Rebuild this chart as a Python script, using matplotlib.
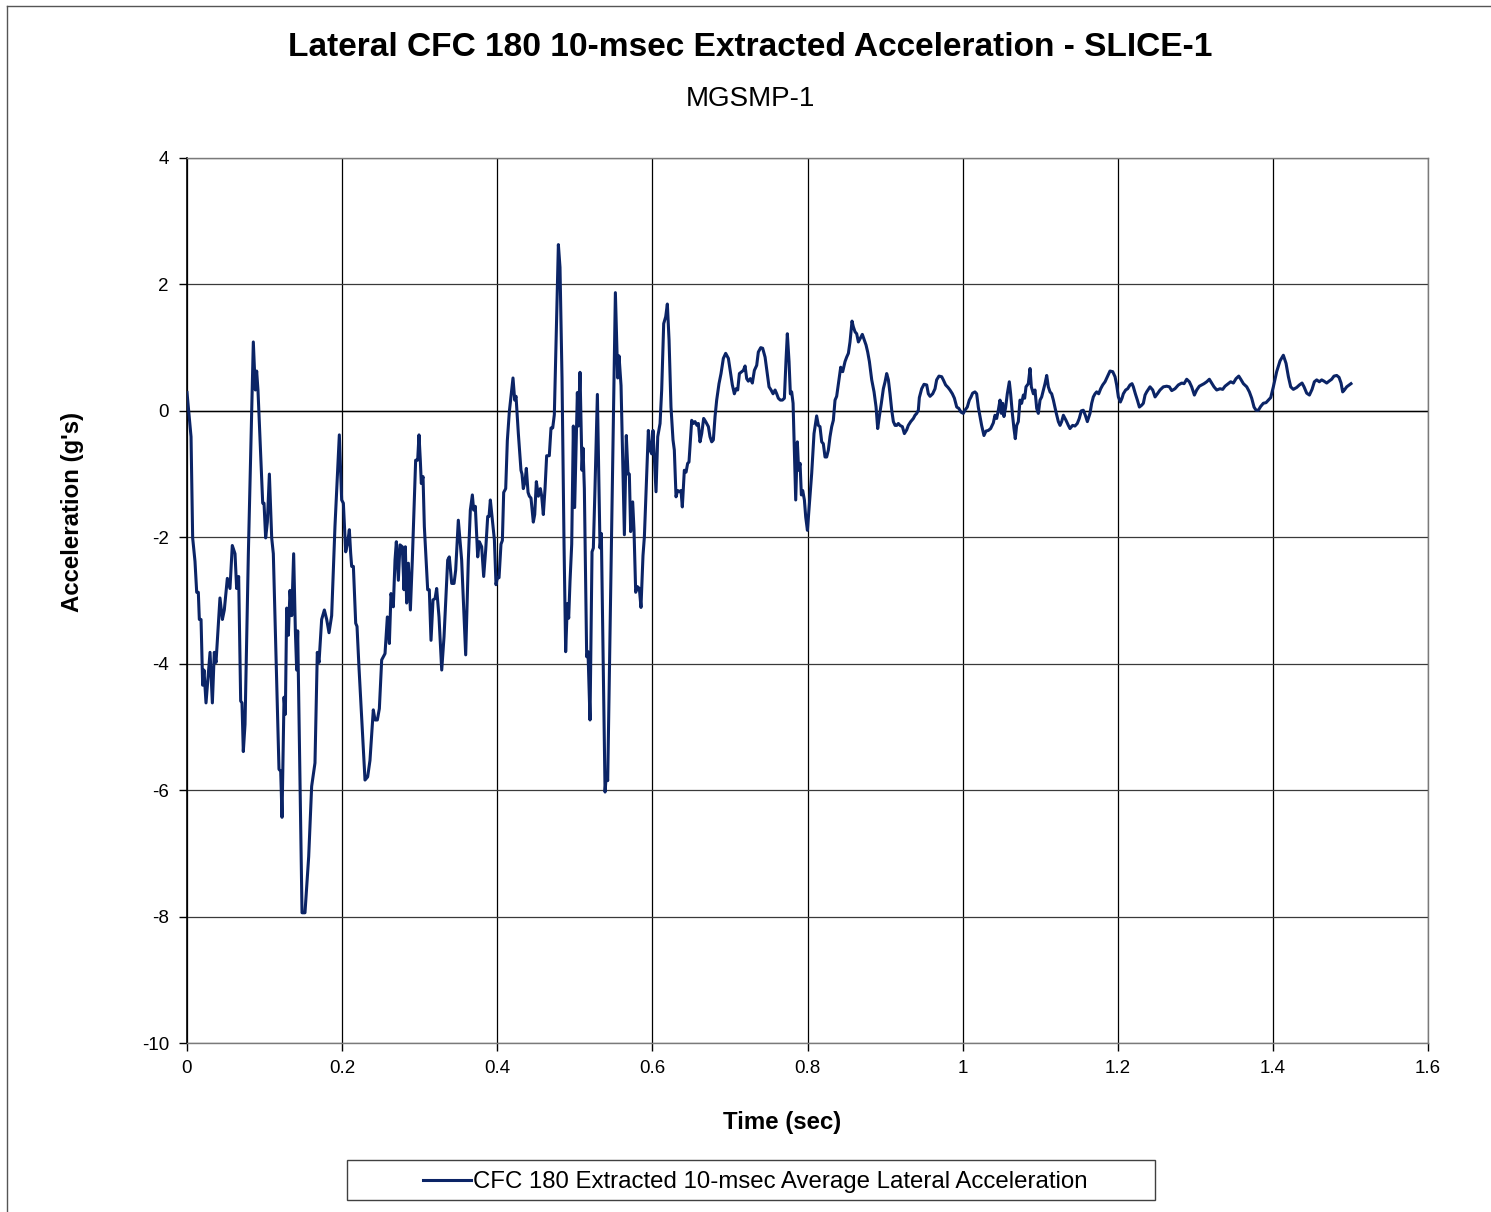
import matplotlib
matplotlib.use('Agg')
import matplotlib.pyplot as plt
from matplotlib.lines import Line2D
from matplotlib.patches import Rectangle
from matplotlib.ticker import FuncFormatter

plt.rcParams['font.family'] = ['Liberation Sans', 'DejaVu Sans']
plt.rcParams['axes.unicode_minus'] = False

# values
time_s = [
    0.0000, 0.0052, 0.0073, 0.0103, 0.0125, 0.0146, 0.0159, 0.0181, 0.0202, 0.0219,
    0.0245, 0.0297, 0.0327, 0.0352, 0.0374, 0.0425, 0.0456, 0.0481, 0.0520, 0.0554,
    0.0584, 0.0619, 0.0640, 0.0666, 0.0692, 0.0709, 0.0726, 0.0748, 0.0791, 0.0855,
    0.0881, 0.0898, 0.0915, 0.0976, 0.0993, 0.1014, 0.1036, 0.1062, 0.1092, 0.1113,
    0.1186, 0.1208, 0.1225, 0.1251, 0.1268, 0.1285, 0.1307, 0.1328, 0.1350, 0.1375,
    0.1397, 0.1414, 0.1427, 0.1483, 0.1521, 0.1569, 0.1607, 0.1650, 0.1680, 0.1702,
    0.1736, 0.1771, 0.1801, 0.1831, 0.1865, 0.1908, 0.1964,
    # 0.2 - 0.4
    0.1994, 0.2016, 0.2046, 0.2071, 0.2093, 0.2110, 0.2123, 0.2145, 0.2175, 0.2192,
    0.2217, 0.2295, 0.2329, 0.2359, 0.2402, 0.2424, 0.2454, 0.2480, 0.2510, 0.2553,
    0.2583, 0.2609, 0.2630, 0.2660, 0.2682, 0.2699, 0.2725, 0.2746, 0.2776, 0.2798,
    0.2815, 0.2832, 0.2854, 0.2880, 0.2905, 0.2931, 0.2948, 0.2974, 0.2991, 0.3008,
    0.3021, 0.3043, 0.3060, 0.3103, 0.3124, 0.3146, 0.3172, 0.3198, 0.3219, 0.3249,
    0.3284, 0.3314, 0.3361, 0.3382, 0.3413, 0.3443, 0.3464, 0.3498, 0.3541, 0.3593,
    0.3627, 0.3653, 0.3679, 0.3696, 0.3717, 0.3748, 0.3769, 0.3799, 0.3825, 0.3851,
    0.3877, 0.3894, 0.3911, 0.3937, 0.3963, 0.3984,
    # 0.4 - 0.6
    0.4001, 0.4023, 0.4048, 0.4066, 0.4083, 0.4109, 0.4130, 0.4156, 0.4177, 0.4203,
    0.4225, 0.4242, 0.4272, 0.4306, 0.4319, 0.4336, 0.4358, 0.4375, 0.4397, 0.4414,
    0.4435, 0.4465, 0.4483, 0.4504, 0.4530, 0.4556, 0.4573, 0.4594, 0.4616, 0.4637,
    0.4671, 0.4693, 0.4715, 0.4736, 0.4758, 0.4788, 0.4809, 0.4835, 0.4861, 0.4882,
    0.4904, 0.4921, 0.4938, 0.4960, 0.4981, 0.4998, 0.5015, 0.5033, 0.5046, 0.5067,
    0.5093, 0.5106, 0.5123, 0.5153, 0.5170, 0.5196, 0.5222, 0.5239, 0.5260, 0.5291,
    0.5312, 0.5325, 0.5342, 0.5390, 0.5407, 0.5424, 0.5523, 0.5553, 0.5570, 0.5596,
    0.5639, 0.5664, 0.5686, 0.5703, 0.5720, 0.5746, 0.5763, 0.5785, 0.5806, 0.5832,
    0.5853, 0.5879, 0.5897,
    # 0.6 - 0.8
    0.5948, 0.5970, 0.5991, 0.6008, 0.6025, 0.6047, 0.6069, 0.6099, 0.6120, 0.6146,
    0.6172, 0.6193, 0.6215, 0.6240, 0.6266, 0.6283, 0.6305, 0.6326, 0.6352, 0.6369,
    0.6386, 0.6412, 0.6434, 0.6455, 0.6472, 0.6507, 0.6528, 0.6550, 0.6575, 0.6593,
    0.6614, 0.6636, 0.6661, 0.6687, 0.6722, 0.6743, 0.6765, 0.6786, 0.6808, 0.6829,
    0.6859, 0.6885, 0.6915, 0.6945, 0.6980, 0.7005, 0.7031, 0.7057, 0.7079, 0.7100,
    0.7122, 0.7152, 0.7173, 0.7195, 0.7216, 0.7237, 0.7263, 0.7289, 0.7315, 0.7345,
    0.7366, 0.7397, 0.7422, 0.7453, 0.7478, 0.7504, 0.7530, 0.7556, 0.7582, 0.7603,
    0.7624, 0.7650, 0.7676, 0.7702, 0.7723, 0.7740, 0.7762, 0.7779, 0.7796, 0.7814,
    0.7848, 0.7869, 0.7886, 0.7904, 0.7921, 0.7938, 0.7960, 0.7977, 0.7999,
    # 0.8 - 1.0
    0.8019, 0.8054, 0.8084, 0.8118, 0.8140, 0.8161, 0.8183, 0.8204, 0.8226, 0.8247,
    0.8269, 0.8290, 0.8312, 0.8333, 0.8355, 0.8376, 0.8398, 0.8428, 0.8454, 0.8484,
    0.8505, 0.8527, 0.8548, 0.8574, 0.8591, 0.8613, 0.8634, 0.8656, 0.8677, 0.8707,
    0.8729, 0.8755, 0.8776, 0.8798, 0.8828, 0.8858, 0.8884, 0.8905, 0.8926, 0.8952,
    0.8978, 0.9000, 0.9021, 0.9043, 0.9064, 0.9086, 0.9107, 0.9129, 0.9150, 0.9171,
    0.9193, 0.9223, 0.9249, 0.9279, 0.9300, 0.9331, 0.9365, 0.9386, 0.9408, 0.9429,
    0.9442, 0.9472, 0.9502, 0.9537, 0.9558, 0.9580, 0.9614, 0.9644, 0.9665, 0.9695,
    0.9730, 0.9751, 0.9781, 0.9812, 0.9837, 0.9868, 0.9894, 0.9924, 0.9950, 0.9979,
    # 1.0 - 1.24
    1.0009, 1.0030, 1.0060, 1.0086, 1.0108, 1.0129, 1.0159, 1.0181, 1.0202, 1.0224,
    1.0245, 1.0275, 1.0301, 1.0331, 1.0361, 1.0396, 1.0417, 1.0439, 1.0460, 1.0482,
    1.0499, 1.0516, 1.0533, 1.0555, 1.0576, 1.0602, 1.0619, 1.0641, 1.0662, 1.0679,
    1.0697, 1.0718, 1.0740, 1.0761, 1.0783, 1.0800, 1.0817, 1.0847, 1.0869, 1.0886,
    1.0912, 1.0933, 1.0955, 1.0976, 1.0998, 1.1019, 1.1041, 1.1062, 1.1084, 1.1105,
    1.1127, 1.1148, 1.1170, 1.1204, 1.1234, 1.1256, 1.1277, 1.1299, 1.1333, 1.1363,
    1.1384, 1.1418, 1.1448, 1.1478, 1.1504, 1.1530, 1.1556, 1.1582, 1.1608, 1.1642,
    1.1664, 1.1685, 1.1707, 1.1728, 1.1754, 1.1780, 1.1806, 1.1836, 1.1866, 1.1900,
    1.1935, 1.1965, 1.1986, 1.2008, 1.2034, 1.2055, 1.2072, 1.2102, 1.2128, 1.2158,
    1.2184, 1.2201, 1.2227, 1.2253, 1.2279, 1.2309, 1.2330, 1.2352, 1.2373, 1.2399,
    # 1.24 - 1.5
    1.2416, 1.2451, 1.2481, 1.2511, 1.2545, 1.2588, 1.2631, 1.2666, 1.2696, 1.2738,
    1.2781, 1.2825, 1.2855, 1.2889, 1.2923, 1.2953, 1.2988, 1.3018, 1.3052, 1.3082,
    1.3112, 1.3147, 1.3181, 1.3211, 1.3241, 1.3276, 1.3319, 1.3353, 1.3383, 1.3426,
    1.3456, 1.3491, 1.3525, 1.3560, 1.3586, 1.3620, 1.3663, 1.3697, 1.3727, 1.3757,
    1.3783, 1.3813, 1.3843, 1.3877, 1.3912, 1.3942, 1.3972, 1.4006, 1.4049, 1.4092,
    1.4135, 1.4170, 1.4200, 1.4230, 1.4264, 1.4307, 1.4342, 1.4376, 1.4402, 1.4436,
    1.4471, 1.4505, 1.4535, 1.4565, 1.4599, 1.4629, 1.4659, 1.4694, 1.4724, 1.4758,
    1.4788, 1.4823, 1.4853, 1.4879, 1.4900, 1.4922, 1.4952, 1.4986, 1.5007,
]

accel_g = [
    0.29, -0.41, -2.01, -2.38, -2.87, -2.87, -3.30, -3.30, -4.34, -4.10,
    -4.62, -3.82, -4.62, -3.82, -3.98, -2.96, -3.30, -3.15, -2.65, -2.81,
    -2.13, -2.26, -2.81, -2.62, -4.59, -4.62, -5.39, -4.96, -2.26, 1.09,
    0.33, 0.63, 0.33, -1.46, -1.46, -2.01, -1.76, -1.00, -2.01, -2.26,
    -5.67, -5.70, -6.43, -4.53, -4.80, -3.12, -3.55, -2.84, -3.24, -2.26,
    -3.48, -4.10, -3.48, -7.94, -7.94, -7.05, -5.94, -5.57, -3.82, -3.98,
    -3.30, -3.15, -3.30, -3.51, -3.24, -1.82, -0.38,
    # 0.2 - 0.4
    -1.41, -1.46, -2.23, -2.09, -1.88, -2.25, -2.46, -2.46, -3.36, -3.41,
    -4.05, -5.84, -5.79, -5.53, -4.73, -4.89, -4.89, -4.71, -3.94, -3.84,
    -3.26, -3.68, -2.89, -3.10, -2.36, -2.07, -2.68, -2.12, -2.15, -2.83,
    -2.15, -3.04, -2.41, -3.15, -2.36, -1.41, -0.78, -0.78, -0.38, -0.78,
    -1.15, -1.04, -1.83, -2.83, -2.83, -3.63, -2.99, -2.97, -2.81, -3.26,
    -4.10, -3.57, -2.36, -2.31, -2.73, -2.73, -2.52, -1.73, -2.36, -3.86,
    -2.36, -1.57, -1.33, -1.57, -1.51, -2.31, -2.07, -2.15, -2.62, -2.20,
    -1.67, -1.67, -1.41, -1.73, -2.04, -2.75,
    # 0.4 - 0.6
    -2.64, -2.64, -2.11, -2.05, -1.29, -1.23, -0.47, -0.01, 0.23, 0.52,
    0.17, 0.23, -0.36, -0.94, -1.00, -1.23, -1.12, -0.91, -1.29, -1.35,
    -1.38, -1.76, -1.64, -1.12, -1.35, -1.23, -1.35, -1.64, -1.23, -0.71,
    -0.71, -0.27, -0.27, -0.06, 1.11, 2.63, 2.27, 0.52, -2.11, -3.81,
    -3.05, -3.28, -2.70, -2.11, -0.24, -1.53, -0.65, 0.29, -0.24, 0.61,
    -0.94, -0.59, -1.23, -3.89, -3.81, -4.89, -2.23, -2.17, -1.23, 0.26,
    -1.23, -2.17, -1.94, -6.03, -5.74, -5.85, 1.87, 0.52, 0.87, 0.40,
    -1.96, -0.39, -1.00, -1.00, -1.91, -1.44, -1.88, -2.87, -2.78, -2.81,
    -3.11, -2.29, -1.99,
    # 0.6 - 0.8
    -0.31, -0.62, -0.68, -0.31, -0.73, -1.28, -0.41, -0.20, 0.33, 1.38,
    1.49, 1.69, 1.12, 0.06, -0.46, -0.62, -1.36, -1.26, -1.28, -1.26,
    -1.52, -0.94, -0.97, -0.83, -0.81, -0.15, -0.20, -0.17, -0.23, -0.20,
    -0.49, -0.36, -0.12, -0.17, -0.25, -0.41, -0.49, -0.46, -0.09, 0.17,
    0.43, 0.59, 0.83, 0.91, 0.83, 0.62, 0.41, 0.27, 0.35, 0.33,
    0.59, 0.62, 0.64, 0.71, 0.51, 0.47, 0.51, 0.44, 0.64, 0.72,
    0.93, 1.00, 0.99, 0.85, 0.62, 0.38, 0.33, 0.27, 0.33, 0.27,
    0.20, 0.17, 0.17, 0.20, 0.80, 1.22, 0.78, 0.27, 0.30, 0.12,
    -1.41, -0.49, -0.94, -0.83, -1.33, -1.26, -1.41, -1.68, -1.89,
    # 0.8 - 1.0
    -1.57, -0.99, -0.36, -0.08, -0.23, -0.25, -0.49, -0.52, -0.73, -0.73,
    -0.62, -0.41, -0.25, -0.15, 0.17, 0.23, 0.43, 0.69, 0.62, 0.78,
    0.85, 0.91, 1.09, 1.42, 1.33, 1.25, 1.22, 1.09, 1.14, 1.21,
    1.13, 1.04, 0.93, 0.78, 0.49, 0.30, 0.06, -0.28, -0.09, 0.12,
    0.35, 0.46, 0.59, 0.49, 0.27, 0.01, -0.17, -0.23, -0.23, -0.20,
    -0.23, -0.25, -0.36, -0.30, -0.23, -0.17, -0.12, -0.07, -0.04, 0.01,
    0.21, 0.35, 0.42, 0.41, 0.27, 0.23, 0.27, 0.35, 0.49, 0.55,
    0.54, 0.49, 0.41, 0.37, 0.33, 0.27, 0.20, 0.06, 0.04, -0.02,
    # 1.0 - 1.24
    -0.04, 0.01, 0.06, 0.17, 0.22, 0.28, 0.30, 0.27, 0.06, -0.09,
    -0.23, -0.39, -0.32, -0.31, -0.28, -0.19, -0.07, -0.12, 0.01, 0.17,
    -0.04, 0.12, -0.09, 0.06, 0.27, 0.46, 0.27, -0.04, -0.28, -0.44,
    -0.23, -0.17, 0.17, 0.12, 0.25, 0.20, 0.38, 0.43, 0.67, 0.38,
    0.27, 0.33, 0.04, -0.04, 0.17, 0.22, 0.33, 0.43, 0.56, 0.38,
    0.30, 0.27, 0.17, -0.02, -0.17, -0.23, -0.17, -0.07, -0.15, -0.23,
    -0.28, -0.23, -0.24, -0.20, -0.12, 0.00, 0.01, -0.07, -0.17, -0.04,
    0.12, 0.22, 0.27, 0.30, 0.27, 0.35, 0.41, 0.46, 0.54, 0.63,
    0.62, 0.54, 0.41, 0.22, 0.14, 0.20, 0.27, 0.33, 0.35, 0.41,
    0.43, 0.38, 0.27, 0.17, 0.06, 0.09, 0.12, 0.25, 0.30, 0.35,
    # 1.24 - 1.5
    0.38, 0.33, 0.22, 0.27, 0.33, 0.38, 0.39, 0.38, 0.32, 0.35,
    0.41, 0.44, 0.43, 0.50, 0.46, 0.38, 0.25, 0.33, 0.39, 0.41,
    0.43, 0.46, 0.50, 0.44, 0.38, 0.33, 0.35, 0.34, 0.39, 0.43,
    0.46, 0.44, 0.51, 0.55, 0.50, 0.43, 0.38, 0.30, 0.20, 0.06,
    0.01, 0.01, 0.07, 0.12, 0.13, 0.17, 0.21, 0.38, 0.62, 0.79,
    0.88, 0.75, 0.54, 0.38, 0.34, 0.37, 0.41, 0.44, 0.38, 0.28,
    0.25, 0.34, 0.46, 0.49, 0.46, 0.49, 0.47, 0.44, 0.47, 0.50,
    0.55, 0.56, 0.53, 0.44, 0.30, 0.33, 0.38, 0.41, 0.43,
]

x_ticks = [0, 0.2, 0.4, 0.6, 0.8, 1.0, 1.2, 1.4, 1.6]
y_ticks = [-10, -8, -6, -4, -2, 0, 2, 4]

titleText = 'Lateral CFC 180 10-msec Extracted Acceleration - SLICE-1'
subTitle = 'MGSMP-1'
seriesName = 'CFC 180 Extracted 10-msec Average Lateral Acceleration'
lineColor = '#0b2466'

W, H = 1491, 1212
fig = plt.figure(figsize=(W / 100, H / 100), dpi=100)
ax = fig.add_axes([187 / W, 1 - 1043 / H, (1428 - 187) / W, (1043 - 158) / H])

line, = ax.plot(time_s, accel_g, color=lineColor, lw=2.2, label=seriesName, zorder=3)
ax.axhline(0, color='black', lw=1.0, zorder=2)

ax.set_xlim(0, 1.6)
ax.set_ylim(-10, 4)
ax.set_xticks(x_ticks)
ax.set_yticks(y_ticks)
ax.xaxis.set_major_formatter(FuncFormatter(lambda v, p: '%g' % v))
ax.yaxis.set_major_formatter(FuncFormatter(lambda v, p: '%g' % v))
ax.tick_params(axis='both', direction='out', length=6, width=1, labelsize=13.5, colors='black')
ax.tick_params(axis='y', pad=7)
ax.tick_params(axis='x', pad=6.5)

ax.xaxis.grid(True, color='black', lw=0.9)
ax.yaxis.grid(True, color='#3a3a3a', lw=0.9)
ax.set_axisbelow(True)

for s in ['top', 'right', 'bottom']:
    ax.spines[s].set_color('#7a7a7a')
    ax.spines[s].set_linewidth(1.0)
ax.spines['left'].set_color('black')
ax.spines['left'].set_linewidth(1.2)

fig.text(750 / W, 1 - 47 / H, titleText, ha='center', va='center', fontsize=24.1, fontweight='bold')
fig.text(750 / W, 1 - 99 / H, subTitle, ha='center', va='center', fontsize=20)
fig.text(782 / W, 1 - 1123 / H, 'Time (sec)', ha='center', va='center', fontsize=17.3, fontweight='bold')
fig.text(72 / W, 1 - 512 / H, "Acceleration (g's)", ha='center', va='center', rotation=90,
         fontsize=17.3, fontweight='bold')

# legend box drawn by hand, Excel style
fig.add_artist(Rectangle((347 / W, 1 - 1200 / H), (1155 - 347) / W, 40 / H, transform=fig.transFigure,
                         fill=False, edgecolor='#404040', lw=1.0))
fig.legend([line], [seriesName], loc='center', bbox_to_anchor=(755 / W, 1 - 1182 / H), frameon=False,
           fontsize=17.3, handlelength=2.0, handletextpad=0.1)

# outer chart border (left and top visible)
fig.add_artist(Line2D([7 / W, 7 / W], [0, 1 - 6 / H], transform=fig.transFigure, color='#555555', lw=1.0))
fig.add_artist(Line2D([7 / W, 1], [1 - 6 / H, 1 - 6 / H], transform=fig.transFigure, color='#555555', lw=1.0))

fig.savefig('out.png', dpi=100)
